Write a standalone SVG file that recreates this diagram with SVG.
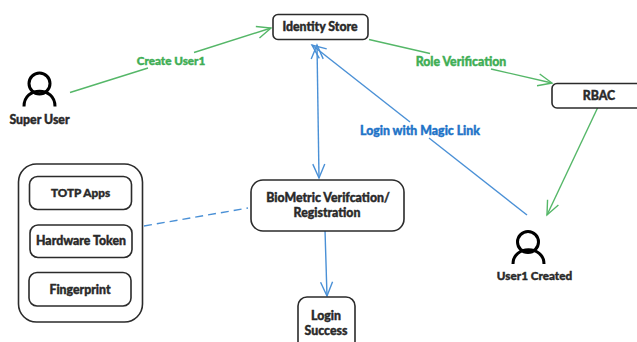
<svg xmlns="http://www.w3.org/2000/svg" width="637" height="342" viewBox="0 0 637 342">
<style>
.box{fill:#fff;stroke:#2b2b2b;stroke-width:1.6}
.t{font-family:"Lato","Open Sans",sans-serif;font-weight:900;font-size:12.3px;fill:#2a2a2a;stroke:#2a2a2a;stroke-width:.4;text-anchor:middle}
.s{font-size:11.7px}
.g{fill:#3fae55;stroke:#3fae55}
.b{fill:#1f74c8;stroke:#1f74c8}
.lg{fill:none;stroke:#55b768;stroke-width:1.4}
.lb{fill:none;stroke:#4a90d6;stroke-width:1.4}
.ic{fill:none;stroke:#000;stroke-width:3}
</style>
<defs>
<marker id="ag" markerUnits="userSpaceOnUse" markerWidth="20" markerHeight="20" refX="15" refY="8" orient="auto-start-reverse"><path d="M1 2L15 8L1 14" fill="none" stroke="#55b768" stroke-width="1.4"/></marker>
<marker id="ab" markerUnits="userSpaceOnUse" markerWidth="20" markerHeight="20" refX="15" refY="8" orient="auto-start-reverse"><path d="M1 2L15 8L1 14" fill="none" stroke="#4a90d6" stroke-width="1.4"/></marker>
</defs>
<g id="connectors">
<path class="lg" d="M70 92.500L148 68"/>
<path class="lg" d="M194 52.500L271 28" marker-end="url(#ag)"/>
<path class="lg" d="M369 39.500L430 53.500"/>
<path class="lg" d="M491 69L552 83" marker-end="url(#ag)"/>
<path class="lg" d="M598 107L547 215" marker-end="url(#ag)"/>
<path class="lb" d="M527 215L429 138"/>
<path class="lb" d="M410 122L312 45" marker-end="url(#ab)"/>
<path class="lb" d="M317 45L319 178" marker-start="url(#ab)" marker-end="url(#ab)"/>
<path class="lb" d="M325 230L327 296" marker-end="url(#ab)"/>
<path class="lb" stroke-dasharray="8 5" d="M144 226L248 208"/>
<text class="t g s" x="171" y="65">Create User1</text>
<text class="t g" x="461" y="66">Role Verification</text>
<text class="t b" x="420" y="135">Login with Magic Link</text>
</g>
<g id="identity-store"><rect class="box" x="273" y="14.500" width="95" height="25" rx="5"/><text class="t" x="320" y="31">Identity Store</text></g>
<g id="rbac"><rect class="box" x="552" y="83.500" width="90" height="24.500" rx="5"/><text class="t" x="599" y="100">RBAC</text></g>
<g id="super-user"><circle class="ic" cx="39.500" cy="83.500" r="10.500"/><path class="ic" d="M24 106.500C24 86 55 86 55 106.500"/><text class="t" x="39.500" y="124">Super User</text></g>
<g id="user1-created"><circle class="ic" cx="528" cy="242" r="10.500"/><path class="ic" d="M513 264C513 245 544 245 544 264"/><text class="t s" x="534.500" y="280">User1 Created</text></g>
<g id="factors"><rect class="box" x="18.500" y="164" width="124" height="158" rx="18"/></g>
<g id="totp"><rect class="box" x="29.500" y="176.500" width="102" height="33" rx="8"/><text class="t s" x="80.500" y="197">TOTP Apps</text></g>
<g id="hardware-token"><rect class="box" x="30" y="225" width="102" height="32.500" rx="8"/><text class="t" x="81" y="245">Hardware Token</text></g>
<g id="fingerprint"><rect class="box" x="29" y="272.500" width="102" height="33.500" rx="8"/><text class="t" x="80" y="294">Fingerprint</text></g>
<g id="biometric"><rect class="box" x="251" y="180" width="153" height="51" rx="12"/><text class="t" x="328" y="202">BioMetric Verifcation/</text><text class="t" x="327" y="217">Registration</text></g>
<g id="login-success"><rect class="box" x="298" y="297" width="57" height="60" rx="9"/><text class="t" x="326" y="320">Login</text><text class="t" x="326" y="335">Success</text></g>
</svg>
